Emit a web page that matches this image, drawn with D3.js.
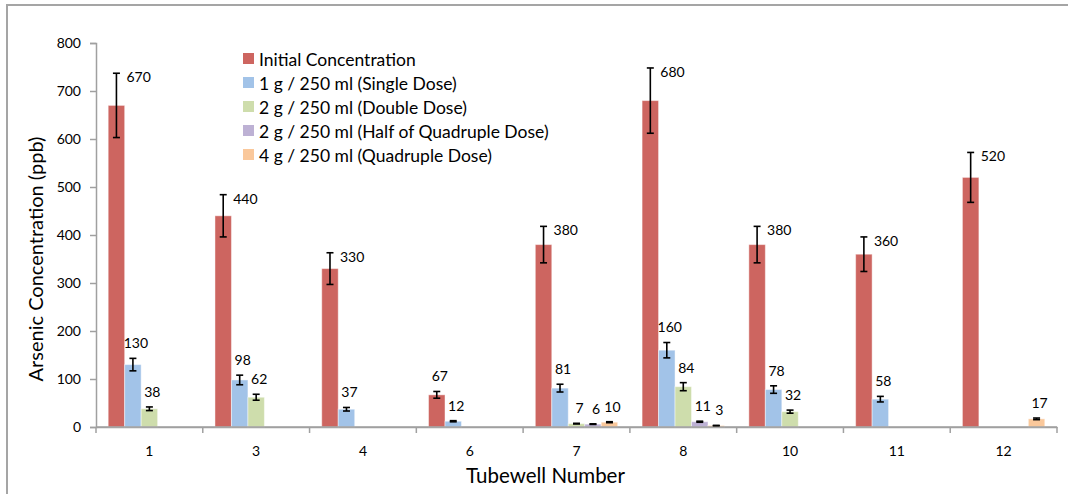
<!DOCTYPE html>
<html><head><meta charset="utf-8">
<script src="https://cdn.jsdelivr.net/npm/d3@7"></script>
<style>body{margin:0;background:#fff}svg{display:block;font-family:Lato,"Open Sans",sans-serif}</style>
</head><body><svg id="c" width="1068" height="494"></svg>
<script>
const categories = ["1","3","4","6","7","8","10","11","12"];
const seriesNames = ["Initial Concentration","1 g / 250 ml (Single Dose)","2 g / 250 ml (Double Dose)","2 g / 250 ml (Half of Quadruple Dose)","4 g / 250 ml (Quadruple Dose)"];
const initial   = [670,440,330,67,380,680,380,360,520];
const single    = [130,98,37,12,81,160,78,58,null];
const double    = [38,62,null,null,7,84,32,null,null];
const halfQuad  = [null,null,null,null,6,11,null,null,null];
const quad      = [null,null,null,null,10,3,null,null,17];
const initialErr  = [67,44,33,7,38,68,38,36,52];
const singleErr   = [13,10,3.7,1.2,8.1,16,7.8,5.8,null];
const doubleErr   = [3.8,6.2,null,null,0.7,8.4,3.2,null,null];
const halfQuadErr = [null,null,null,null,0.6,1.1,null,null,null];
const quadErr     = [null,null,null,null,1,0.3,null,null,1.7];
const yTicks = [0,100,200,300,400,500,600,700,800];
const colors = ["#CD6560","#A2C3E8","#CEDDAC","#BDB1D4","#FAC89B"];

const values = [initial,single,double,halfQuad,quad];
const errs = [initialErr,singleErr,doubleErr,halfQuadErr,quadErr];

const svg = d3.select("#c");
svg.append("rect").attr("x",7).attr("y",5).attr("width",1100).attr("height",520)
  .attr("fill","none").attr("stroke","#A5A5A5").attr("stroke-width",2);

const L=96,R=1057,T=43,B=427;
const x0 = d3.scaleBand().domain(categories).range([L,R]).padding(0);
const x1 = d3.scaleBand().domain(d3.range(5)).range([0,x0.bandwidth()]).paddingInner(0).paddingOuter(0.74);
const y = d3.scaleLinear().domain([0,800]).range([B,T]);

// axes
const axisColor="#A0A0A0";
const gy = svg.append("g").attr("transform",`translate(${L},0)`)
  .call(d3.axisLeft(y).tickValues(yTicks).tickSize(6).tickPadding(9));
const gx = svg.append("g").attr("transform",`translate(0,${B})`)
  .call(d3.axisBottom(x0).tickSize(0).tickPadding(19));
svg.append("g").selectAll("line").data(d3.range(categories.length+1)).join("line")
  .attr("x1",i=>L+i*x0.step()).attr("x2",i=>L+i*x0.step())
  .attr("y1",B).attr("y2",B+6).attr("stroke",axisColor).attr("stroke-width",1.5);
[gy,gx].forEach(g=>{
  g.select(".domain").attr("stroke",axisColor).attr("stroke-width",1.5);
  g.selectAll(".tick line").attr("stroke",axisColor).attr("stroke-width",1.5);
  g.selectAll(".tick text").attr("fill","#000").style("font-size","14px").style("font-family","Lato,sans-serif");
});

// bars
const items=[];
values.forEach((arr,s)=>arr.forEach((v,i)=>{ if(v!=null) items.push({s,i,v,e:errs[s][i]}); }));
const g = svg.append("g");
g.selectAll("rect").data(items).join("rect")
  .attr("x",d=>x0(categories[d.i])+x1(d.s))
  .attr("width",x1.bandwidth())
  .attr("y",d=>y(d.v)).attr("height",d=>B-y(d.v))
  .attr("fill",d=>colors[d.s]).attr("stroke","rgba(255,255,255,0.45)").attr("stroke-width",1);
svg.append("line").attr("x1",L).attr("x2",R).attr("y1",B).attr("y2",B).attr("stroke",axisColor).attr("stroke-width",1.5);

// error bars
const eg = svg.append("g").attr("stroke","#000").attr("stroke-width",1.6);
items.forEach(d=>{
  const cx = x0(categories[d.i])+x1(d.s)+x1.bandwidth()/2;
  const yt=y(d.v+d.e), yb=y(d.v-d.e);
  eg.append("line").attr("x1",cx).attr("x2",cx).attr("y1",yt).attr("y2",yb);
  eg.append("line").attr("x1",cx-3.5).attr("x2",cx+3.5).attr("y1",yt).attr("y2",yt);
  eg.append("line").attr("x1",cx-3.5).attr("x2",cx+3.5).attr("y1",yb).attr("y2",yb);
});

// data labels
const side = d => d.s===0 && d.v>=100;
svg.append("g").selectAll("text").data(items).join("text")
  .attr("x",d=>{const cx=x0(categories[d.i])+x1(d.s)+x1.bandwidth()/2; return side(d)?cx+10:cx+3;})
  .attr("y",d=>side(d)?y(d.v+d.e)+4:y(d.v+d.e)-15)
  .attr("dy","0.35em")
  .attr("text-anchor",d=>side(d)?"start":"middle")
  .style("font-size","14px").text(d=>d.v);

// axis titles
svg.append("text").attr("transform","translate(43,259) rotate(-90)")
  .attr("text-anchor","middle").style("font-size","20px").text("Arsenic Concentration (ppb)");
svg.append("text").attr("x",545.5).attr("y",483).attr("text-anchor","middle")
  .style("font-size","20.5px").text("Tubewell Number");

// legend
const lg = svg.append("g").attr("transform","translate(243,53)");
seriesNames.forEach((n,k)=>{
  lg.append("rect").attr("x",0).attr("y",k*24).attr("width",11).attr("height",11).attr("fill",colors[k]);
  lg.append("text").attr("x",16).attr("y",k*24+7).attr("dy","0.35em").style("font-size","17.5px").text(n);
});
</script></body></html>
